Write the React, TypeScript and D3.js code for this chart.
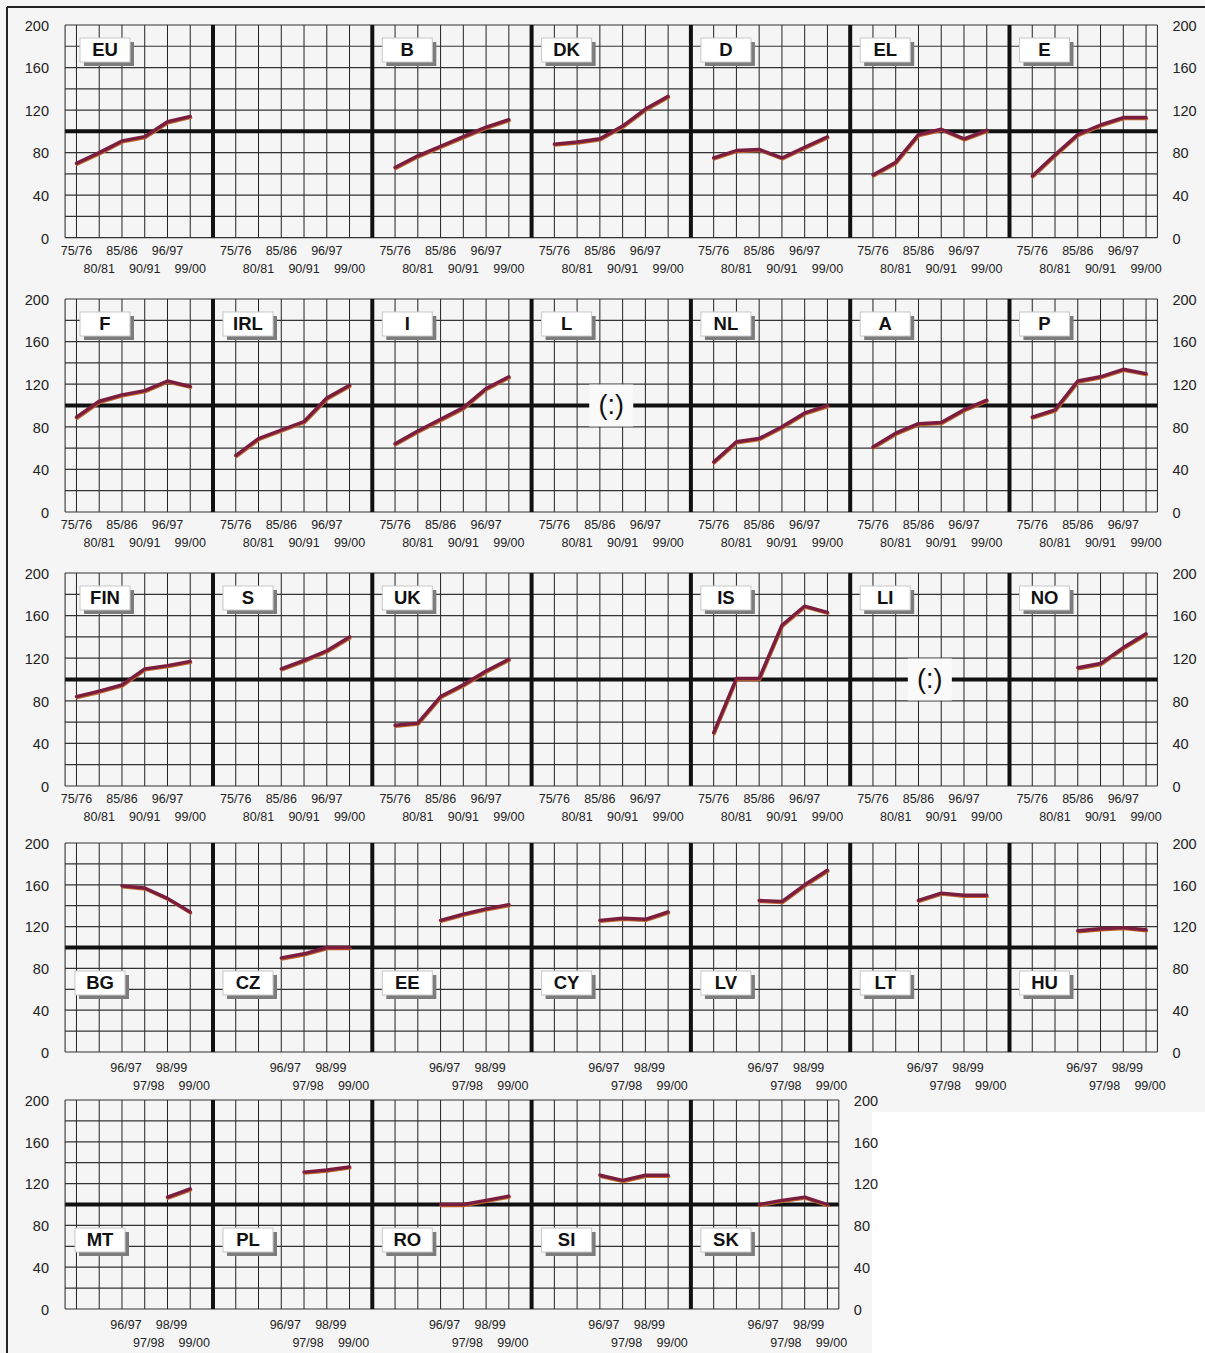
import * as d3 from 'd3';
import React from 'react';

// periods on the x axis
const oldPeriods = ["75/76", "80/81", "85/86", "90/91", "96/97", "99/00"];
const newPeriods = ["96/97", "97/98", "98/99", "99/00"];
const yTicks = [0, 40, 80, 120, 160, 200];

// "" = empty panel, notAvailable = panel shows (:)
const notAvailable = ["L", "LI"];

const row1Codes = ["EU", "", "B", "DK", "D", "EL", "E"];
const row1Values = [
  [70, 80, 91, 95, 109, 114],
  [],
  [66, 77, 86, 95, 104, 111],
  [88, 90, 93, 105, 121, 133],
  [75, 82, 83, 75, 85, 95],
  [59, 71, 97, 102, 93, 101],
  [58, 78, 97, 106, 113, 113],
];

const row2Codes = ["F", "IRL", "I", "L", "NL", "A", "P"];
const row2Values = [
  [89, 104, 110, 114, 123, 118],
  [53, 69, 77, 85, 107, 119],
  [64, 76, 87, 98, 116, 127],
  [],
  [47, 66, 69, 80, 93, 100],
  [61, 74, 83, 84, 96, 105],
  [89, 96, 123, 127, 134, 130],
];

const row3Codes = ["FIN", "S", "UK", "", "IS", "LI", "NO"];
const row3Values = [
  [84, 89, 95, 110, 113, 117],
  [null, null, 110, 118, 127, 140],
  [57, 59, 84, 95, 108, 119],
  [],
  [50, 101, 101, 151, 169, 163],
  [],
  [null, null, 111, 115, 130, 143],
];

const row4Codes = ["BG", "CZ", "EE", "CY", "LV", "LT", "HU"];
const row4Values = [
  [159, 157, 147, 134],
  [90, 94, 100, 100],
  [126, 132, 137, 141],
  [126, 128, 127, 134],
  [145, 144, 160, 174],
  [145, 152, 150, 150],
  [116, 118, 119, 117],
];

const row5Codes = ["MT", "PL", "RO", "SI", "SK"];
const row5Values = [
  [null, null, 107, 115],
  [null, 131, 133, 136],
  [100, 100, 104, 108],
  [128, 123, 128, 128],
  [100, 104, 107, 100],
];

const FONT = "'Liberation Sans', Arial, Helvetica, sans-serif";
const PANEL_W = 159.3;
const X0 = 53.7;
const COL = PANEL_W / 7;
const GRID_L = X0 + COL / 2;

type RowProps = {
  codes: string[];
  values: (number | null)[][];
  periods: string[];
  top: number;
  height: number;
  newLayout: boolean;
};

function Row(props: RowProps) {
  const { codes, values, periods, top, height, newLayout } = props;
  const n = codes.length;
  const gridR = X0 + n * PANEL_W - COL / 2;
  const bottom = top + height;
  const y = d3.scaleLinear().domain([0, 200]).range([bottom, top]);
  const kStart = newLayout ? 3 : 1;
  const rightLabelX = gridR + 15;

  const thin: number[] = [];
  const thick: number[] = [];
  for (let k = 1; k < n * 7; k++) {
    const gx = X0 + k * COL;
    if (gx <= GRID_L || gx >= gridR) continue;
    if (k % 7 === 0) thick.push(gx);
    else thin.push(gx);
  }
  thin.push(GRID_L, gridR);
  const hLines = d3.range(0, 201, 20);

  const line = d3.line<number | null>()
    .defined(d => d != null)
    .y(d => y(d as number));

  return (
    <g>
      {/* grid */}
      {thin.map((gx, i) => (
        <line key={'v' + i} x1={gx} x2={gx} y1={top} y2={bottom} stroke="#222" strokeWidth={1} />
      ))}
      {hLines.filter(v => v !== 100).map(v => (
        <line key={'h' + v} x1={GRID_L} x2={gridR} y1={y(v)} y2={y(v)} stroke="#333" strokeWidth={1.2} />
      ))}
      <line x1={GRID_L} x2={gridR} y1={y(100)} y2={y(100)} stroke="#111" strokeWidth={4} />
      {thick.map((gx, i) => (
        <line key={'t' + i} x1={gx} x2={gx} y1={top} y2={bottom} stroke="#111" strokeWidth={4} />
      ))}

      {/* y axis labels */}
      {yTicks.map(v => (
        <g key={'y' + v} fontFamily={FONT} fontSize={14.5} fill="#222">
          <text x={49} y={y(v) + 2} textAnchor="end" dominantBaseline="middle">{v}</text>
          <text x={rightLabelX} y={y(v) + 2} textAnchor="start" dominantBaseline="middle">{v}</text>
        </g>
      ))}

      {codes.map((code, i) => {
        const left = X0 + i * PANEL_W;
        const x = d3.scalePoint<string>()
          .domain(periods)
          .range([left + kStart * COL, left + 6 * COL]);
        const shift = newLayout ? 4 : 0;
        const path = line.x((_, j) => x(periods[j]) as number)(values[i]);
        const boxX = i === 0 ? (newLayout ? 75 : 80) : left + 10;
        const boxY = newLayout ? top + 128 : top + 13;
        const na = notAvailable.includes(code);
        const cx = left + PANEL_W / 2;
        const cy = y(100);
        return (
          <g key={'p' + i}>
            {/* x labels */}
            {periods.map((p, j) => (
              <text
                key={p}
                x={(x(p) as number) + shift}
                y={bottom + (newLayout ? 17 : 14) + (j % 2 === 1 ? 18 : 0)}
                textAnchor="middle"
                dominantBaseline="middle"
                fontFamily={FONT}
                fontSize={12.5}
                fill="#222"
              >{p}</text>
            ))}
            {na && (
              <g>
                <rect x={cx - 22} y={cy - 21} width={44} height={42} fill="#fafafa" />
                <text x={cx} y={cy + 1} textAnchor="middle" dominantBaseline="middle"
                  fontFamily={FONT} fontSize={27} fill="#111">(:)</text>
              </g>
            )}
            {path && values[i].length > 0 && (
              <g fill="none" strokeLinejoin="round" strokeLinecap="round">
                <path d={path} stroke="#c0662a" strokeWidth={3} transform="translate(0.6,1.2)" />
                <path d={path} stroke="#7a1d3f" strokeWidth={3.4} />
              </g>
            )}
            {code && (
              <g>
                <rect x={boxX + 4} y={boxY + 4} width={50} height={24} fill="#7c7c7c" />
                <rect x={boxX} y={boxY} width={50} height={24} fill="#fff" stroke="#c8c8c8" strokeWidth={1} />
                <text x={boxX + 25} y={boxY + 13} textAnchor="middle" dominantBaseline="middle"
                  fontFamily={FONT} fontWeight="bold" fontSize={18.5} fill="#111">{code}</text>
              </g>
            )}
          </g>
        );
      })}
    </g>
  );
}

export default function App() {
  return (
    <svg width={1205} height={1353} style={{ position: 'absolute', left: 0, top: 0 }}>
      <rect x={0} y={0} width={1205} height={1353} fill="#f5f5f5" />
      <rect x={872} y={1112} width={333} height={241} fill="#ffffff" />
      <line x1={7} x2={1205} y1={7} y2={7} stroke="#222" strokeWidth={2} />
      <line x1={7} x2={7} y1={7} y2={1353} stroke="#222" strokeWidth={2} />
      <Row codes={row1Codes} values={row1Values} periods={oldPeriods} top={25} height={212.7} newLayout={false} />
      <Row codes={row2Codes} values={row2Values} periods={oldPeriods} top={299} height={213} newLayout={false} />
      <Row codes={row3Codes} values={row3Values} periods={oldPeriods} top={573} height={213} newLayout={false} />
      <Row codes={row4Codes} values={row4Values} periods={newPeriods} top={843} height={209} newLayout={true} />
      <Row codes={row5Codes} values={row5Values} periods={newPeriods} top={1100} height={209} newLayout={true} />
    </svg>
  );
}
